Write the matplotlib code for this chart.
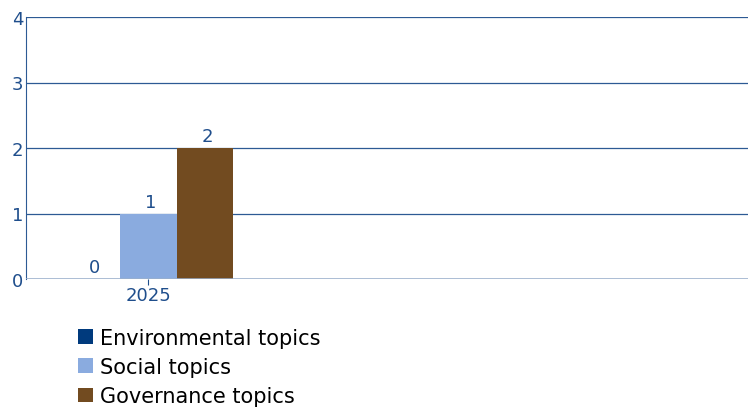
import matplotlib.pyplot as plt
from matplotlib.patches import Patch

years = ["2025", "", ""]
series = ["Environmental topics", "Social topics", "Governance topics"]
values = [[0], [1], [2]]
colors = ["#003a7d", "#8aabdf", "#724b20"]

fig = plt.figure(figsize=(7.48, 4.10), dpi=100)
ax = fig.add_axes([26 / 748, 1 - 280 / 410, 722 / 748, 262 / 410])

bw = 0.235
for i, (name, vals, c) in enumerate(zip(series, values, colors)):
    xs = [j + (i - 1) * bw for j in range(len(vals))]
    ax.bar(xs, vals, width=bw, color=c, zorder=3)
    for x, v in zip(xs, vals):
        ax.text(x + 0.01, v + 0.04, str(v), ha="center", va="bottom",
                color="#1f4e8c", fontsize=13)

ax.set_xlim(-0.508, 2.492)
ax.set_ylim(0, 4)
ax.set_yticks([0, 1, 2, 3, 4])
ax.set_xticks([0])
ax.set_xticklabels([years[0]])
ax.tick_params(axis="both", colors="#1f4e8c", labelsize=13, length=0, pad=2)
ax.tick_params(axis="x", length=4, color="#1f4e8c", pad=1)
ax.yaxis.grid(True, color="#2d5a94", linewidth=0.9, zorder=0)
for s in ["top", "right", "bottom"]:
    ax.spines[s].set_visible(False)
ax.spines["left"].set_color("#2d5a94")
ax.axhline(0, color="#9bb0cc", linewidth=1.8, zorder=4)

handles = [Patch(facecolor=c, label=n) for n, c in zip(series, colors)]
fig.legend(handles=handles, loc="upper left", bbox_to_anchor=(78 / 748, 1 - 329 / 410),
           frameon=False, fontsize=15, handlelength=0.72, handleheight=0.72,
           handletextpad=0.35, labelspacing=0.44, borderaxespad=0, borderpad=0)

fig.savefig("out.png", dpi=100)
